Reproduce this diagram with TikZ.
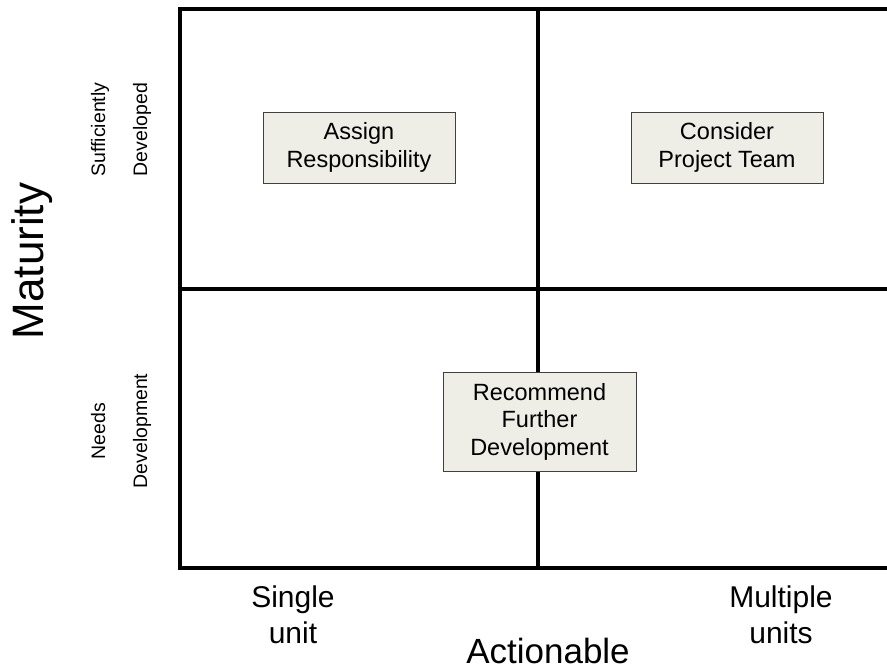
\documentclass[tikz,border=0pt]{standalone}
\usepackage{fontspec}
\setmainfont{Liberation Sans}
\usepackage[dvipsnames]{xcolor}
\definecolor{boxfill}{HTML}{EEEDE6}
\definecolor{boxline}{HTML}{404040}

\begin{document}
\begin{tikzpicture}[x=1pt,y=-1pt,thick,
    quad box/.style={draw=boxline,line width=1pt,fill=boxfill,minimum width=192pt,minimum height=71pt,inner sep=0pt,align=center,font=\fontsize{23.5}{27.5}\selectfont},
    side label/.style={rotate=90,align=center,font=\fontsize{19.5}{42}\selectfont},
    tick label/.style={align=center,font=\fontsize{30}{36}\selectfont},
    axis title/.style={font=\fontsize{35}{42}\selectfont}]
            \clip (0,0) rectangle (887,670);

            % quadrant grid
            \draw[line width=4pt] (180,9) rectangle (895,568);
            \draw[line width=4pt] (538,9) -- (538,568);
            \draw[line width=4pt] (180,289) -- (895,289);

            \node[quad box] (assign) at (359,147.5) {Assign\\Responsibility};
            \node[quad box] (team) at (727,147.5) {Consider\\Project Team};
            \node[quad box, minimum width=193pt, minimum height=99pt] (further) at (539.5,421.5) {Recommend\\Further\\Development};

            \node[side label] (developed) at (121,129.5) {Sufficiently\\Developed};
            \node[side label] (needs) at (121,431) {Needs\\Development};
            \node[axis title, rotate=90, font=\fontsize{44}{50}\selectfont] (maturity) at (32,261) {Maturity};

            \node[tick label] (single) at (293,615) {Single\\unit};
            \node[tick label] (multiple) at (781,615) {Multiple\\units};
            \node[axis title, anchor=base] (actionable) at (548,663) {Actionable};
        \end{tikzpicture}
\end{document}
